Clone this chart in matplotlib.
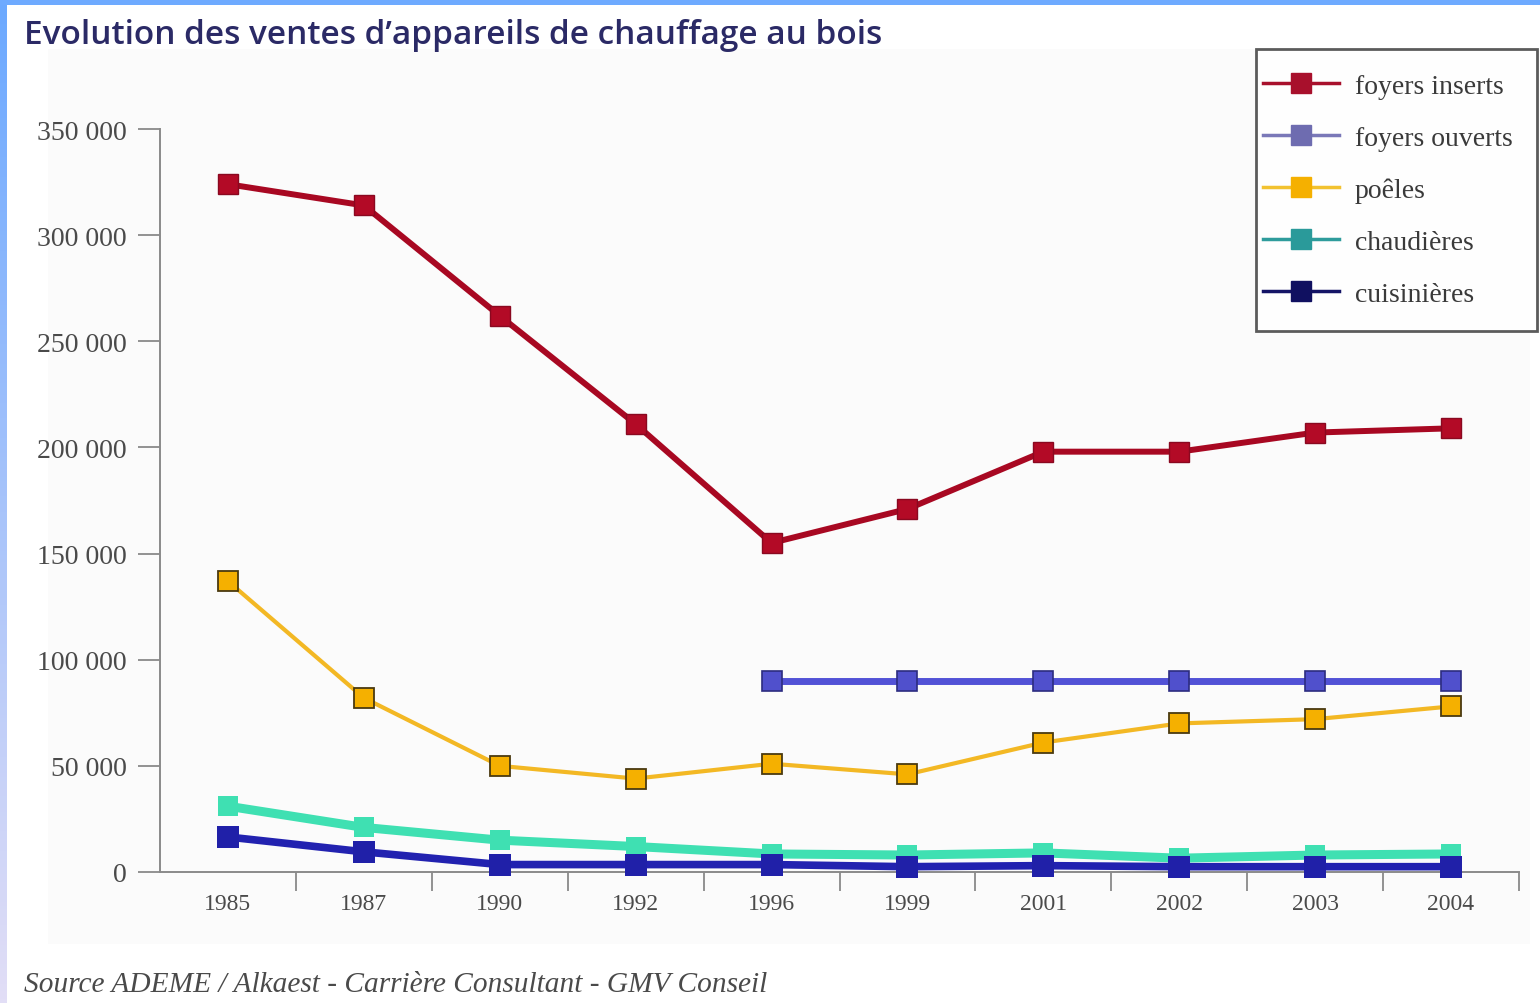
import numpy as np
import matplotlib
matplotlib.use("Agg")
import matplotlib.pyplot as plt
from matplotlib.lines import Line2D
from matplotlib.patches import Rectangle
from matplotlib.legend_handler import HandlerLine2D
from matplotlib.ticker import FixedLocator, FuncFormatter

# ---- data -------------------------------------------------------------
years = ["1985", "1987", "1990", "1992", "1996", "1999", "2001", "2002", "2003", "2004"]
foyers_inserts = [324000, 314000, 262000, 211000, 155000, 171000, 198000, 198000, 207000, 209000]
foyers_ouverts = [np.nan, np.nan, np.nan, np.nan, 90000, 90000, 90000, 90000, 90000, 90000]
poeles = [137000, 82000, 50000, 44000, 51000, 46000, 61000, 70000, 72000, 78000]
chaudieres = [31000, 21000, 15000, 12000, 8500, 8000, 9000, 6500, 8000, 8500]
cuisinieres = [16500, 9500, 3500, 3500, 3500, 2500, 3000, 2500, 2500, 2500]
y_ticks = [0, 50000, 100000, 150000, 200000, 250000, 300000, 350000]

title = "Evolution des ventes d\u2019appareils de chauffage au bois"
source = "Source ADEME / Alkaest - Carri\u00e8re Consultant - GMV Conseil"

W, H = 1540, 1004
fig = plt.figure(figsize=(W / 100, H / 100), dpi=100)
fig.patch.set_facecolor("white")

def fx(px):
    return px / W

def fy(py):
    return 1 - py / H

# faint panel behind the chart
fig.patches.append(Rectangle((fx(48), fy(945)), fx(1530) - fx(48), fy(50) - fy(945),
                             transform=fig.transFigure, facecolor="#fbfbfb",
                             edgecolor="none", zorder=-2))

# blue frame strips (top + left gradient)
fig.patches.append(Rectangle((0, fy(6)), 1, 6 / H, transform=fig.transFigure,
                             facecolor="#6eaaff", edgecolor="none", zorder=-1))
gax = fig.add_axes([0, 0, fx(7), fy(6)])
grad = np.linspace(0, 1, 256)[:, None]
top_c = np.array([0x6c, 0xa9, 0xff]) / 255
bot_c = np.array([0xe2, 0xde, 0xf6]) / 255
img = top_c[None, None, :] * (1 - grad[:, :, None]) + bot_c[None, None, :] * grad[:, :, None]
gax.imshow(img, aspect="auto", extent=[0, 1, 0, 1])
gax.axis("off")

# ---- main axes --------------------------------------------------------
ax = fig.add_axes([fx(160), fy(873), fx(1519) - fx(160), fy(130) - fy(873)])
ax.set_facecolor("none")
ax.set_zorder(2)
x = np.arange(len(years))

ax.plot(x, chaudieres, color="#3fe0b2", lw=6.5, marker="s", ms=15,
        mfc="#3fe0b2", mec="#3fe0b2", mew=0, clip_on=False, zorder=3)
ax.plot(x, cuisinieres, color="#2222b0", lw=5.5, marker="s", ms=16,
        mfc="#2020a8", mec="#2020a8", mew=0, clip_on=False, zorder=4)
ax.plot(x, poeles, color="#f3b824", lw=3.0, marker="s", ms=14,
        mfc="#f5b000", mec="#4a3a10", mew=1.3, clip_on=False, zorder=5)
ax.plot(x, foyers_ouverts, color="#5252d6", lw=5.0, marker="s", ms=14,
        mfc="#5050cc", mec="#2c2c80", mew=1.2, clip_on=False, zorder=6)
ax.plot(x, foyers_inserts, color="#a80822", lw=4.3, marker="s", ms=15,
        mfc="#b30a26", mec="#8a0820", mew=1.0, clip_on=False, zorder=7)

ax.set_xlim(-0.5, len(years) - 0.5)
ax.set_ylim(0, 350000)

for s in ("top", "right"):
    ax.spines[s].set_visible(False)
for s in ("left", "bottom"):
    ax.spines[s].set_color("#8a8a8a")
    ax.spines[s].set_linewidth(1.4)

serif = ["Liberation Serif", "DejaVu Serif"]

ax.yaxis.set_major_locator(FixedLocator(y_ticks))
ax.yaxis.set_major_formatter(FuncFormatter(lambda v, p: f"{int(v):,}".replace(",", " ")))
ax.tick_params(axis="y", direction="out", length=16, width=1.3, color="#8a8a8a",
               pad=8, labelsize=20, labelcolor="#4a4a4a")

# category boundaries carry the tick marks, category centres carry the labels
ax.xaxis.set_major_locator(FixedLocator(list(x + 0.5)))
ax.xaxis.set_major_formatter(FuncFormatter(lambda v, p: ""))
ax.set_xticks(x, years, minor=True)
ax.tick_params(axis="x", which="major", direction="out", length=14, width=1.3, color="#8a8a8a")
ax.tick_params(axis="x", which="minor", length=0, pad=15, labelsize=17, labelcolor="#4a4a4a")

for lab in ax.get_yticklabels() + ax.get_xticklabels(minor=True):
    lab.set_family(serif)

# ---- legend -----------------------------------------------------------
legend_entries = [
    ("foyers inserts", "#a8102c", "#a8102c"),
    ("foyers ouverts", "#7a78b8", "#6e6cb0"),
    ("po\u00eales", "#f2c230", "#f5b000"),
    ("chaudi\u00e8res", "#2e9c9c", "#2a9a9a"),
    ("cuisini\u00e8res", "#141466", "#101060"),
]
handles = [Line2D([0], [0], color=lc, lw=2.5, marker="s", ms=15, mfc=mc, mec=mc)
           for _, lc, mc in legend_entries]
leg = fig.legend(handles, [e[0] for e in legend_entries], loc="upper right",
                 bbox_to_anchor=(fx(1537), fy(50)), bbox_transform=fig.transFigure,
                 frameon=True, fancybox=False, borderpad=0.87, labelspacing=0.96,
                 handlelength=2.1, handletextpad=0.58, borderaxespad=0,
                 handler_map={Line2D: HandlerLine2D(xpad=-0.62)},
                 prop={"family": serif, "size": 20})
leg.set_zorder(5)
leg.get_frame().set_edgecolor("#333333")
leg.get_frame().set_linewidth(2.0)
for t in leg.get_texts():
    t.set_color("#3a3a3a")

# ---- titles -----------------------------------------------------------
fig.text(fx(24), fy(35), title, ha="left", va="center", fontsize=24,
         fontweight="semibold", color="#2b2a66",
         family=["Open Sans", "DejaVu Sans"])
fig.text(fx(24), fy(985), source, ha="left", va="center", fontsize=21.2,
         style="italic", color="#4a4a4a", family=serif)

fig.savefig("out.png", dpi=100)
